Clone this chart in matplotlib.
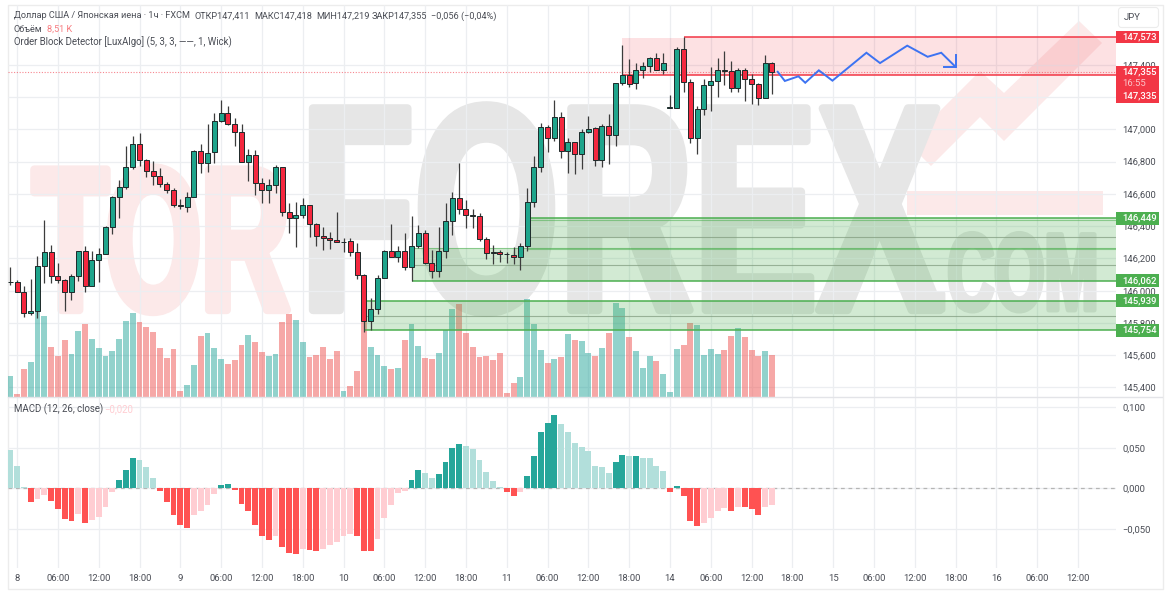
import matplotlib
matplotlib.use("Agg")
import matplotlib.pyplot as plt
import matplotlib.patheffects as pe
from matplotlib.patches import Polygon, Rectangle, FancyBboxPatch
from matplotlib.transforms import Affine2D

# USD/JPY 1h candles
opens = [146.052, 146.054, 145.992, 145.860, 145.874, 146.153, 146.241, 146.089, 146.068, 145.993,
         146.091, 146.244, 146.031, 146.190, 146.229, 146.396, 146.579, 146.641, 146.765, 146.909,
         146.810, 146.744, 146.713, 146.659, 146.622, 146.533, 146.520, 146.582, 146.864, 146.790,
         146.858, 147.054, 147.100, 147.033, 146.982, 146.799, 146.839, 146.669, 146.624, 146.653,
         146.765, 146.486, 146.452, 146.467, 146.529, 146.413, 146.337, 146.328, 146.314, 146.300,
         146.306, 146.238, 146.097, 145.814, 145.888, 146.077, 146.248, 146.210, 146.248, 146.148,
         146.277, 146.356, 146.173, 146.120, 146.244, 146.432, 146.574, 146.508, 146.467, 146.463,
         146.318, 146.238, 146.240, 146.229, 146.223, 146.207, 146.277, 146.551, 146.765, 147.013,
         146.948, 147.075, 146.864, 146.920, 146.849, 146.982, 147.007, 146.812, 147.019, 146.967,
         147.286, 147.337, 147.286, 147.366, 147.391, 147.441, 147.370, 147.134, 147.134, 147.498,
         147.294, 146.948, 147.128, 147.275, 147.298, 147.370, 147.360, 147.255, 147.370, 147.312,
         147.279, 147.196, 147.411]
closes = [146.054, 145.992, 145.860, 145.874, 146.153, 146.241, 146.089, 146.068, 145.993, 146.091,
          146.244, 146.031, 146.190, 146.229, 146.396, 146.579, 146.641, 146.765, 146.909, 146.810,
          146.744, 146.713, 146.659, 146.622, 146.531, 146.523, 146.582, 146.864, 146.790, 146.855,
          147.052, 147.100, 147.033, 146.982, 146.799, 146.839, 146.669, 146.624, 146.653, 146.765,
          146.486, 146.452, 146.467, 146.529, 146.413, 146.337, 146.326, 146.314, 146.300, 146.302,
          146.238, 146.097, 145.814, 145.888, 146.077, 146.248, 146.210, 146.248, 146.148, 146.277,
          146.356, 146.173, 146.120, 146.244, 146.432, 146.574, 146.508, 146.467, 146.465, 146.318,
          146.235, 146.236, 146.225, 146.227, 146.207, 146.275, 146.551, 146.765, 147.015, 146.948,
          147.075, 146.864, 146.920, 146.849, 146.982, 147.004, 146.812, 147.019, 146.967, 147.286,
          147.337, 147.283, 147.366, 147.391, 147.441, 147.370, 147.410, 147.136, 147.498, 147.294,
          146.948, 147.128, 147.275, 147.298, 147.370, 147.360, 147.255, 147.370, 147.312, 147.279,
          147.196, 147.410, 147.355]
highs = [146.148, 146.066, 146.029, 146.070, 146.215, 146.438, 146.283, 146.170, 146.070, 146.103,
         146.248, 146.279, 146.248, 146.263, 146.401, 146.587, 146.686, 146.899, 146.959, 146.976,
         146.816, 146.806, 146.759, 146.675, 146.635, 146.568, 146.613, 146.872, 146.907, 147.031,
         147.100, 147.182, 147.145, 147.069, 147.033, 146.878, 146.872, 146.697, 146.690, 146.779,
         146.766, 146.542, 146.551, 146.574, 146.533, 146.418, 146.393, 146.365, 146.486, 146.325,
         146.325, 146.297, 146.103, 145.953, 146.095, 146.252, 146.411, 146.277, 146.359, 146.463,
         146.407, 146.376, 146.252, 146.393, 146.542, 146.610, 146.790, 146.562, 146.504, 146.480,
         146.331, 146.283, 146.252, 146.241, 146.272, 146.297, 146.638, 146.835, 147.038, 147.027,
         147.182, 147.106, 146.945, 146.923, 147.000, 147.083, 147.016, 147.031, 147.093, 147.286,
         147.523, 147.436, 147.410, 147.416, 147.450, 147.475, 147.472, 147.213, 147.512, 147.574,
         147.310, 147.145, 147.310, 147.385, 147.441, 147.486, 147.424, 147.379, 147.379, 147.341,
         147.286, 147.461, 147.418]
lows = [146.035, 145.990, 145.838, 145.849, 145.829, 146.046, 146.046, 146.049, 145.876, 145.942,
        146.062, 145.993, 146.031, 146.055, 146.229, 146.351, 146.450, 146.632, 146.752, 146.773,
        146.703, 146.653, 146.644, 146.604, 146.520, 146.504, 146.488, 146.581, 146.731, 146.736,
        146.790, 147.047, 147.027, 146.899, 146.798, 146.680, 146.593, 146.543, 146.543, 146.607,
        146.463, 146.359, 146.272, 146.449, 146.334, 146.279, 146.252, 146.256, 146.300, 146.238,
        146.215, 146.070, 145.745, 145.756, 145.853, 146.077, 146.209, 146.179, 146.128, 146.060,
        146.263, 146.165, 146.080, 146.086, 146.204, 146.345, 146.475, 146.387, 146.387, 146.306,
        146.196, 146.165, 146.178, 146.170, 146.165, 146.128, 146.248, 146.520, 146.737, 146.861,
        146.930, 146.824, 146.728, 146.721, 146.752, 146.977, 146.773, 146.768, 146.785, 146.899,
        147.275, 147.261, 147.252, 147.320, 147.354, 147.368, 147.343, 147.134, 147.134, 147.233,
        146.917, 146.847, 147.089, 147.112, 147.202, 147.275, 147.230, 147.233, 147.176, 147.157,
        147.151, 147.196, 147.219]

# volume in thousands
volumes = [4.29, 0.61, 5.65, 7.07, 17.4, 16.5, 10.2, 8.37, 11.6, 8.78,
           13.5, 14.9, 11.8, 10.0, 8.44, 9.39, 11.9, 15.6, 17.2, 15.4,
           14.3, 13.3, 10.1, 8.03, 9.86, 1.29, 2.38, 6.46, 12.4, 13.0,
           10.1, 7.69, 6.80, 7.55, 10.7, 12.7, 11.2, 9.12, 8.44, 8.78,
           15.3, 17.0, 15.7, 11.2, 8.16, 8.57, 10.2, 7.69, 9.39, 1.29,
           2.24, 5.31, 15.4, 10.3, 8.57, 6.33, 5.78, 5.92, 11.7, 15.0,
           10.5, 7.96, 7.69, 8.91, 13.7, 18.0, 19.0, 13.1, 10.3, 8.16,
           8.30, 7.48, 8.91, 0.82, 2.86, 4.08, 19.9, 14.8, 9.52, 6.87,
           7.76, 8.10, 12.9, 11.7, 11.4, 9.05, 8.30, 10.1, 13.1, 19.2,
           18.1, 12.2, 9.39, 5.92, 8.30, 7.35, 4.69, 0.95, 9.80, 10.7,
           15.1, 14.7, 8.57, 9.80, 8.78, 9.66, 12.4, 14.0, 12.2, 9.52,
           8.30, 9.39, 8.51]

macd = [0.047, 0.028, 0.001, -0.017, -0.013, -0.008, -0.016, -0.026, -0.038, -0.040,
        -0.032, -0.043, -0.039, -0.035, -0.023, -0.004, 0.010, 0.023, 0.037, 0.035,
        0.026, 0.013, -0.003, -0.017, -0.033, -0.045, -0.049, -0.033, -0.028, -0.021,
        -0.007, 0.0045, 0.0055, -0.002, -0.019, -0.028, -0.045, -0.059, -0.064, -0.059,
        -0.073, -0.080, -0.081, -0.075, -0.076, -0.077, -0.075, -0.070, -0.066, -0.059,
        -0.056, -0.059, -0.077, -0.078, -0.062, -0.037, -0.021, -0.006, -0.003, 0.010,
        0.023, 0.019, 0.013, 0.018, 0.033, 0.050, 0.055, 0.052, 0.048, 0.035,
        0.020, 0.009, 0.001, -0.005, -0.009, -0.005, 0.015, 0.040, 0.070, 0.081,
        0.091, 0.080, 0.070, 0.056, 0.051, 0.046, 0.027, 0.026, 0.019, 0.033,
        0.041, 0.0395, 0.0405, 0.038, 0.037, 0.028, 0.021, -0.005, 0.003, -0.009,
        -0.040, -0.047, -0.043, -0.037, -0.028, -0.024, -0.028, -0.023, -0.0235, -0.026,
        -0.033, -0.023, -0.020]

time_ticks = [1, 7, 13, 19, 25, 31, 37, 43, 49, 55, 61, 67, 73, 79, 85, 91, 97, 103, 109, 115,
              121, 127, 133, 139, 145, 151, 157]
time_labels = ["8", "06:00", "12:00", "18:00", "9", "06:00", "12:00", "18:00", "10", "06:00", "12:00",
               "18:00", "11", "06:00", "12:00", "18:00", "14", "06:00", "12:00", "18:00", "15", "06:00",
               "12:00", "18:00", "16", "06:00", "12:00"]
price_ticks = [145.4, 145.6, 145.8, 146.0, 146.2, 146.4, 146.6, 146.8, 147.0, 147.2, 147.4]
macd_ticks = [-0.05, 0.0, 0.05, 0.1]

# order blocks: start bar, end bar, top, bottom
red_starts = [90, 99]
red_ends = [99, 162.6]
red_tops = [147.566, 147.573]
red_bottoms = [147.335, 147.335]
green_starts = [76, 59, 52]
green_tops = [146.449, 146.262, 145.939]
green_bottoms = [146.256, 146.062, 145.754]
green_mids = [146.334, 146.157, 145.844]
green_strong = [146.449, 146.062, 145.939, 145.754]
green_strong_starts = [76, 59, 52, 52]
green_faint = [146.438, 146.262, 146.256]
green_faint_starts = [76, 59, 76]

# hand drawn forecast line
path_bars = [112.85, 113.9, 115.9, 116.9, 118.9, 120.9, 125.9, 127.9, 131.9, 134.9, 136.9, 139.0]
path_prices = [147.357, 147.300, 147.329, 147.289, 147.366, 147.302, 147.475, 147.411, 147.519, 147.450,
               147.475, 147.388]
head_bars = [137.3, 139.0, 139.0]
head_prices = [147.388, 147.388, 147.459]

FONT = "Roboto"
TEXT = "#4a4d55"
UP = "#1fa58c"
DOWN = "#f4283f"
RED_TAG = "#f23645"
GREEN_TAG = "#4caf50"
GRID = "#eceef1"
AXIS_SIZE = 6.8
HEAD_SIZE = 6.6

plt.rcParams["font.family"] = FONT
W, H = 1170, 600


def rect(left, top, right, bottom):
    return [left / W, 1 - bottom / H, (right - left) / W, (bottom - top) / H]


class Squeeze(pe.AbstractPathEffect):
    # narrows a text around x0 and fattens it: the watermark is set in a heavy condensed face
    def __init__(self, sx, x0, fatten):
        super().__init__()
        self.sx = sx
        self.x0 = x0
        self.fatten = fatten

    def draw_path(self, renderer, gc, tpath, affine, rgbFace=None):
        sq = Affine2D().translate(-self.x0, 0).scale(self.sx, 1).translate(self.x0, 0)
        gc0 = renderer.new_gc()
        gc0.copy_properties(gc)
        gc0.set_linewidth(self.fatten)
        gc0.set_foreground(rgbFace)
        renderer.draw_path(gc0, tpath, affine + sq, rgbFace)
        gc0.restore()


fig = plt.figure(figsize=(W / 100, H / 100), dpi=100, facecolor="white")

# page: frame and watermark, in pixels
page = fig.add_axes([0, 0, 1, 1], zorder=0)
page.set_xlim(0, W)
page.set_ylim(H, 0)
page.axis("off")
page.add_patch(Rectangle((7.5, 4.5), 1155, 584.5, fc="none", ec="#ececec", lw=1))

PINK = "#fce9e9"
GREY = "#e6e6e6"
page.add_patch(Polygon([(908, 143), (980, 71), (1004, 93), (1079, 21), (1102, 43), (1004, 141), (980, 117),
                        (931, 166)], fc=PINK, ec="none"))
page.add_patch(Rectangle((907, 191), 196, 24, fc=PINK, ec="none"))
marks = [("TOR", 33, "left", 310, 147, 0.6, 6, PINK),
         ("FOREX", 621, "center", 310, 211, 0.635, 6, GREY),
         (".COM", 1014, "center", 310, 79, 0.59, 3.5, GREY)]
for word, x0, align, base, size, sx, fat, col in marks:
    page.text(x0, base, word, fontsize=size, color=col, family="Liberation Sans", weight="bold",
              va="baseline", ha=align, path_effects=[Squeeze(sx, x0, fat)])

# pane scales
xlim = (-0.338, 162.6)
main_rect = rect(8, 5, 1116, 397)
price_lim = (145.341, 147.771)

grid_ax = fig.add_axes(main_rect, zorder=1)
grid_ax.patch.set_visible(False)
grid_ax.set_xlim(xlim)
grid_ax.set_ylim(price_lim)
grid_ax.set_xticks(time_ticks)
grid_ax.set_xticklabels([])
grid_ax.set_yticks(price_ticks)
grid_ax.set_yticklabels([f"{p:.3f}".replace(".", ",") for p in price_ticks], fontsize=AXIS_SIZE, color=TEXT)
grid_ax.yaxis.tick_right()
grid_ax.tick_params(length=0, pad=4.5)
grid_ax.grid(color=GRID, lw=0.9)
for s in grid_ax.spines.values():
    s.set_visible(False)

vol_ax = fig.add_axes(main_rect, zorder=2)
vol_ax.axis("off")
vol_ax.set_xlim(xlim)
vol_ax.set_ylim(0, 80)
bars = list(range(len(closes)))
vol_colors = [(38 / 255, 166 / 255, 154 / 255, 0.5) if c > o else (239 / 255, 83 / 255, 80 / 255, 0.5)
              for o, c in zip(opens, closes)]
vol_ax.bar(bars, volumes, width=0.88, color=vol_colors)

ax = fig.add_axes(main_rect, zorder=3)
ax.axis("off")
ax.set_xlim(xlim)
ax.set_ylim(price_lim)
right = xlim[1]

for start, end, top, bottom in zip(red_starts, red_ends, red_tops, red_bottoms):
    ax.fill_between([start, end], bottom, top, color=RED_TAG, alpha=0.15, lw=0)
ax.hlines(red_tops[1], red_starts[1], right, color=RED_TAG, lw=1.1)
ax.hlines(red_bottoms[0], red_starts[0], right, color=RED_TAG, lw=1.1)
for start, top, bottom, mid in zip(green_starts, green_tops, green_bottoms, green_mids):
    ax.fill_between([start, right], bottom, top, color=GREEN_TAG, alpha=0.25, lw=0)
    ax.hlines(mid, start, right, color="#7f9a7c", lw=0.8, alpha=0.7)
ax.hlines(green_strong, green_strong_starts, right, color=GREEN_TAG, lw=1.1)
ax.hlines(green_faint, green_faint_starts, right, color=GREEN_TAG, lw=0.8, alpha=0.55)

ax.hlines(closes[-1], xlim[0], right, color=RED_TAG, lw=0.8, linestyles=(0, (1, 1.5)), alpha=0.6)

candle_colors = [UP if c > o else DOWN for o, c in zip(opens, closes)]
ax.vlines(bars, lows, highs, color="#3c3c3c", lw=0.9, zorder=4)
ax.bar(bars, [abs(c - o) for o, c in zip(opens, closes)], bottom=[min(o, c) for o, c in zip(opens, closes)],
       width=0.76, color=candle_colors, edgecolor="#1d2a2a", linewidth=0.7, zorder=5)

ax.plot(path_bars, path_prices, color="#3d73f2", lw=1.4, zorder=6, solid_joinstyle="miter")
ax.plot(head_bars, head_prices, color="#3d73f2", lw=1.4, zorder=6, solid_joinstyle="miter")

# price tags on the right axis
trans = ax.get_yaxis_transform()
tag_w = 42.5 / 1108


def tag(price, label, color, tag_h=0.079):
    ax.add_patch(Rectangle((1.0, price - tag_h / 2), tag_w, tag_h, transform=trans, fc=color, ec="none",
                           clip_on=False, zorder=8))
    ax.text(1.0055, price, label, transform=trans, color="white", fontsize=AXIS_SIZE, va="center", ha="left",
            clip_on=False, zorder=9, weight="medium")


tag(147.573, "147,573", RED_TAG)
ax.add_patch(Rectangle((1.0, 147.163), tag_w, 0.23, transform=trans, fc=RED_TAG, ec="none", clip_on=False, zorder=8))
ax.text(1.0055, 147.355, "147,355", transform=trans, color="white", fontsize=AXIS_SIZE, va="center", ha="left",
        zorder=9, weight="medium")
ax.text(1.0055, 147.285, "16:55", transform=trans, color="#fbc5ca", fontsize=AXIS_SIZE, va="center", ha="left",
        zorder=9)
ax.text(1.0055, 147.207, "147,335", transform=trans, color="white", fontsize=AXIS_SIZE, va="center", ha="left",
        zorder=9, weight="medium")
tag(146.449, "146,449", GREEN_TAG)
tag(146.062, "146,062", GREEN_TAG)
tag(145.939, "145,939", GREEN_TAG)
tag(145.754, "145,754", GREEN_TAG)

# MACD pane
macd_ax = fig.add_axes(rect(8, 398, 1116, 568), zorder=3)
macd_ax.patch.set_visible(False)
macd_ax.set_xlim(xlim)
macd_ax.set_ylim(-0.0984, 0.1115)
macd_colors = []
for i, v in enumerate(macd):
    rising = i > 0 and v > macd[i - 1]
    if v >= 0:
        macd_colors.append("#26a69a" if rising else "#b2dfdb")
    else:
        macd_colors.append("#ffcdd2" if rising else "#ff5252")
macd_ax.set_xticks(time_ticks)
macd_ax.set_xticklabels(time_labels, fontsize=AXIS_SIZE, color=TEXT)
macd_ax.set_yticks(macd_ticks)
macd_ax.set_yticklabels(["−0,050", "0,000", "0,050", "0,100"], fontsize=AXIS_SIZE, color=TEXT)
macd_ax.yaxis.tick_right()
macd_ax.tick_params(length=0, pad=4.5)
macd_ax.tick_params(axis="x", pad=4.5)
macd_ax.grid(color=GRID, lw=0.9)
macd_ax.set_axisbelow(True)
for s in macd_ax.spines.values():
    s.set_visible(False)
macd_ax.axhline(0, color="#b5b5b5", lw=0.9, linestyle=(0, (3, 3)), zorder=1)
macd_ax.bar(bars, macd, width=0.88, color=macd_colors, zorder=2)

# chrome and legends, in pixels
over = fig.add_axes([0, 0, 1, 1], zorder=10)
over.set_xlim(0, W)
over.set_ylim(H, 0)
over.axis("off")
over.plot([8, 1162], [397.3, 397.3], color="#e3e4e8", lw=1)
over.add_patch(FancyBboxPatch((1120, 9), 37, 17, boxstyle="round,pad=1.5,rounding_size=3", fc="white",
                              ec="#ececec", lw=0.8))
over.text(1132, 17.5, "JPY", fontsize=AXIS_SIZE, color=TEXT, ha="center", va="center")

header_y = 16
for x, label in [(14, "Доллар США / Японская иена · 1ч · FXCM"), (194.3, "ОТКР147,411"), (254, "МАКС147,418"),
                 (316, "МИН147,219"), (372, "ЗАКР147,355"), (431, "−0,056 (−0,04%)")]:
    over.text(x, header_y, label, fontsize=HEAD_SIZE, color=TEXT, va="center", ha="left")
over.text(14, 29, "Объём", fontsize=HEAD_SIZE, color=TEXT, va="center", ha="left")
over.text(47.3, 29, "8,51 K", fontsize=HEAD_SIZE, color="#f77c80", va="center", ha="left")
over.text(14, 42, "Order Block Detector [LuxAlgo] (5, 3, 3, ——, 1, Wick)", fontsize=6.9, color=TEXT,
          va="center", ha="left")
over.text(14, 409, "MACD (12, 26, close)", fontsize=6.9, color=TEXT, va="center", ha="left")
over.text(104, 409, "−0,020", fontsize=6.9, color="#ffcdd2", va="center", ha="left")

fig.savefig("out.png", dpi=100)
